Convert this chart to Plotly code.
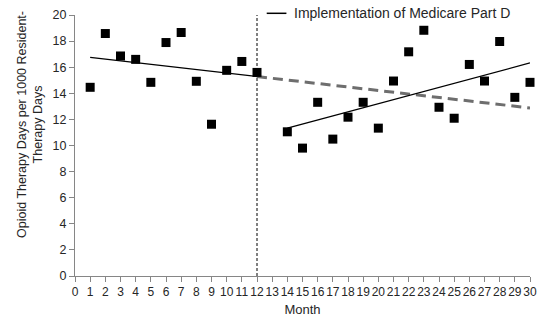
import numpy as np
import plotly.graph_objects as go

# Monthly opioid therapy rate (days per 1000 resident-therapy days)
months_pre = [1, 2, 3, 4, 5, 6, 7, 8, 9, 10, 11, 12]
rate_pre = [14.46, 18.58, 16.86, 16.6, 14.84, 17.89, 18.66, 14.92, 11.63, 15.76, 16.44, 15.6]
months_post = [14, 15, 16, 17, 18, 19, 20, 21, 22, 23, 24, 25, 26, 27, 28, 29, 30]
rate_post = [11.05, 9.8, 13.31, 10.49, 12.17, 13.31, 11.33, 14.94, 17.18, 18.83,
             12.93, 12.09, 16.21, 14.94, 17.97, 13.69, 14.84]
policy_month = 12
x_ticks = list(range(0, 31))
y_ticks = list(range(0, 21, 2))
legend_label = "Implementation of Medicare Part D"

# Linear trends for each period, plus the pre-period trend projected forward
b_pre, a_pre = np.polyfit(months_pre, rate_pre, 1)
b_post, a_post = np.polyfit(months_post, rate_post, 1)
pre_x = [months_pre[0], months_pre[-1]]
proj_x = [months_pre[-1], months_post[-1]]
post_x = [months_post[0], months_post[-1]]

FONT = "Liberation Sans, Arial, sans-serif"
AXIS_GREY = "#868686"
TEXT = "#262626"

fig = go.Figure()

fig.add_trace(go.Scatter(
    x=pre_x, y=[a_pre + b_pre * v for v in pre_x], mode="lines",
    line=dict(color="black", width=1.3), showlegend=False, hoverinfo="skip"))
fig.add_trace(go.Scatter(
    x=proj_x, y=[a_pre + b_pre * v for v in proj_x], mode="lines",
    line=dict(color="#6e6e6e", width=3, dash="10px,6px"), showlegend=False, hoverinfo="skip"))
fig.add_trace(go.Scatter(
    x=post_x, y=[a_post + b_post * v for v in post_x], mode="lines",
    line=dict(color="black", width=1.3), showlegend=False, hoverinfo="skip"))

fig.add_trace(go.Scatter(
    x=months_pre + months_post, y=rate_pre + rate_post, mode="markers",
    marker=dict(symbol="square", size=9, color="black", line=dict(width=0)),
    showlegend=False, cliponaxis=False))

# Policy implementation marker
fig.add_shape(type="line", xref="x", yref="y", x0=policy_month, x1=policy_month,
              y0=y_ticks[0], y1=y_ticks[-1], line=dict(color="black", width=1, dash="3px,2px"))

# Legend entry for the implementation line
fig.add_shape(type="line", xref="x", yref="paper", x0=12.64, x1=13.94, y0=1.0065, y1=1.0065,
              line=dict(color="black", width=1.5))
fig.add_annotation(text=legend_label, xref="x", yref="paper", x=14.3, y=1.0065,
                   xanchor="left", yanchor="middle", showarrow=False,
                   font=dict(family=FONT, size=14, color=TEXT))

# Two-line y-axis title
fig.add_annotation(text="Opioid Therapy Days per 1000 Resident-<br>Therapy Days",
                   xref="paper", yref="paper", x=-0.0987, y=0.579, textangle=-90,
                   xanchor="center", yanchor="middle", showarrow=False,
                   font=dict(family=FONT, size=12.5, color=TEXT))

fig.update_layout(
    width=546, height=323,
    margin=dict(l=75.3, r=8.7, t=14.7, b=46.3),
    paper_bgcolor="white", plot_bgcolor="white",
    font=dict(family=FONT, size=13, color=TEXT),
    showlegend=False,
    xaxis=dict(range=[0, 30], tickmode="array", tickvals=x_ticks, ticktext=[str(t) for t in x_ticks],
               tickangle=0, tickfont=dict(size=12),
               ticks="outside", ticklen=5, tickcolor=AXIS_GREY, showline=True, linecolor=AXIS_GREY,
               linewidth=1, showgrid=False, zeroline=False,
               title=dict(text="Month", standoff=6, font=dict(size=13))),
    yaxis=dict(range=[0, 20], tickmode="array", tickvals=y_ticks, ticktext=[str(t) for t in y_ticks],
               tickfont=dict(size=12.5),
               ticks="outside", ticklen=5, tickcolor=AXIS_GREY, showline=True, linecolor=AXIS_GREY,
               linewidth=1, showgrid=False, zeroline=False),
)

fig.write_html("out.html")
